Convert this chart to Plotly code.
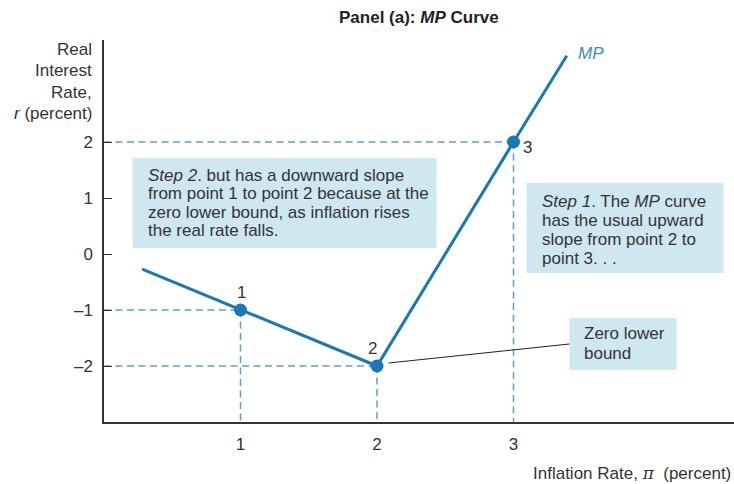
import plotly.graph_objects as go

# ---- data ----
mp_x = [0.28, 1, 2, 3, 3.39]
mp_y = [-0.27, -1, -2, 2, 3.54]
pt_x = [1, 2, 3]
pt_y = [-1, -2, 2]
pt_labels = ["1", "2", "3"]
y_tickvals = [-2, -1, 0, 1, 2]
y_ticktext = ["\u20132", "\u20131", "0", "1", "2"]
x_tickvals = [1, 2, 3]
x_ticktext = ["1", "2", "3"]

step2_lines = ["<i>Step 2</i>. but has a downward slope",
               "from point 1 to point 2 because at the",
               "zero lower bound, as inflation rises",
               "the real rate falls."]
step1_lines = ["<i>Step 1</i>. The <i>MP</i> curve",
               "has the usual upward",
               "slope from point 2 to",
               "point 3. . ."]
zlb_lines = ["Zero lower", "bound"]
ytitle_lines = ["Real", "Interest", "Rate,", "<i>r</i> (percent)"]

FONT = "Liberation Sans, Arial, Helvetica, sans-serif"
FS = 17
TXT = "#333333"
LINE = "#1a78b3"
DASH = "#5a9fd2"
BOX = "#cfe8ef"

# pixel helpers (plot area: x0 at 104.5px, 136.5 px/unit; y0 at 254px, 56 px/unit)
def px_x(p):
    return (p - 104.5) / 136.5
def px_y(p):
    return (254 - p) / 56.0

fig = go.Figure()

# dashed guide lines
for x, y in zip(pt_x, pt_y):
    fig.add_trace(go.Scatter(x=[0, x], y=[y, y], mode="lines",
                             line=dict(color=DASH, width=1.5, dash="7px,4.5px"),
                             hoverinfo="skip", showlegend=False))
    fig.add_trace(go.Scatter(x=[x, x], y=[y, -3], mode="lines",
                             line=dict(color=DASH, width=1.5, dash="7px,4.5px"),
                             hoverinfo="skip", showlegend=False))

# boxes
shapes = []
shapes.append(dict(type="rect", xref="x", yref="y", x0=px_x(133), x1=px_x(437),
                   y0=px_y(248), y1=px_y(158), fillcolor=BOX, line=dict(width=0), layer="below"))
shapes.append(dict(type="rect", xref="x", yref="y", x0=px_x(527), x1=px_x(724),
                   y0=px_y(273), y1=px_y(183), fillcolor=BOX, line=dict(width=0), layer="below"))
shapes.append(dict(type="rect", xref="x", yref="y", x0=px_x(570), x1=px_x(677),
                   y0=px_y(370), y1=px_y(318), fillcolor=BOX, line=dict(width=0), layer="below"))
# leader line
shapes.append(dict(type="line", xref="x", yref="y", x0=px_x(389), y0=px_y(363),
                   x1=px_x(570), y1=px_y(344), line=dict(color="#222222", width=1)))

# MP curve
fig.add_trace(go.Scatter(x=mp_x, y=mp_y, mode="lines",
                         line=dict(color=LINE, width=3), hoverinfo="skip", showlegend=False))
fig.add_trace(go.Scatter(x=pt_x, y=pt_y, mode="markers",
                         marker=dict(color=LINE, size=13), hoverinfo="skip", showlegend=False))

ann = []
def txt(x, y, s, size=FS, anchor="left", color=TXT, **kw):
    ann.append(dict(x=x, y=y, xref="x", yref="y", text=s, showarrow=False,
                    xanchor=anchor, yanchor="middle",
                    font=dict(family=FONT, size=size, color=color), **kw))

for i, s in enumerate(step2_lines):
    txt(px_x(146), px_y(175 + i * 18.5), s)
for i, s in enumerate(step1_lines):
    txt(px_x(540), px_y(201 + i * 19), s)
for i, s in enumerate(zlb_lines):
    txt(px_x(582), px_y(333 + i * 20), s)
for i, s in enumerate(ytitle_lines):
    ann.append(dict(x=94, y=49 + i * 21.5, xref="paper", yref="paper", text=s, showarrow=False,
                    xanchor="right", yanchor="middle",
                    font=dict(family=FONT, size=FS, color=TXT)))

# point labels
lab_pos = [(px_x(242), px_y(292)), (px_x(373), px_y(348)), (px_x(528), px_y(147))]
for (lx, ly), s in zip(lab_pos, pt_labels):
    txt(lx, ly, s, anchor="center")

# MP label
txt(px_x(576), px_y(53), "<i>MP</i>", size=FS, color="#3a8cc8")

# x axis title
ann.append(dict(x=733, y=473, xref="paper", yref="paper",
                text="Inflation Rate, <i><span style='font-family:DejaVu Serif'>\u03c0</span></i>  (percent)",
                showarrow=False, xanchor="right", yanchor="middle",
                font=dict(family=FONT, size=FS, color=TXT)))
# title
ann.append(dict(x=419, y=17, xref="paper", yref="paper",
                text="<b>Panel (a): <i>MP</i> Curve</b>", showarrow=False,
                xanchor="center", yanchor="middle",
                font=dict(family=FONT, size=FS, color="#222222")))

# convert pixel paper annotations into paper coordinates
L, T, W, H = 104, 40, 630, 382
for a in ann:
    if a["xref"] == "paper":
        a["x"] = (a["x"] - L) / W
        a["y"] = (T + H - a["y"]) / H

fig.update_layout(
    width=734, height=484,
    margin=dict(l=L, r=734 - L - W, t=T, b=484 - T - H, pad=0),
    paper_bgcolor="white", plot_bgcolor="white",
    shapes=shapes, annotations=ann, showlegend=False,
    xaxis=dict(range=[0, W / 136.5], showgrid=False, zeroline=False,
               showline=True, linecolor="#333333", linewidth=1.5,
               tickvals=x_tickvals, ticktext=x_ticktext, ticks="",
               ticklabelstandoff=6,
               tickfont=dict(family=FONT, size=FS, color=TXT)),
    yaxis=dict(range=[-3, -3 + H / 56.0], showgrid=False, zeroline=False,
               showline=True, linecolor="#333333", linewidth=1.5,
               tickvals=y_tickvals, ticktext=y_ticktext, ticks="inside",
               ticklen=8, tickcolor="#333333", tickwidth=1.2,
               ticklabelstandoff=6,
               tickfont=dict(family=FONT, size=FS, color=TXT)),
)

fig.write_html("out.html", config={"displayModeBar": False},
               post_script="document.body.style.margin='0';document.body.style.overflow='hidden';")
